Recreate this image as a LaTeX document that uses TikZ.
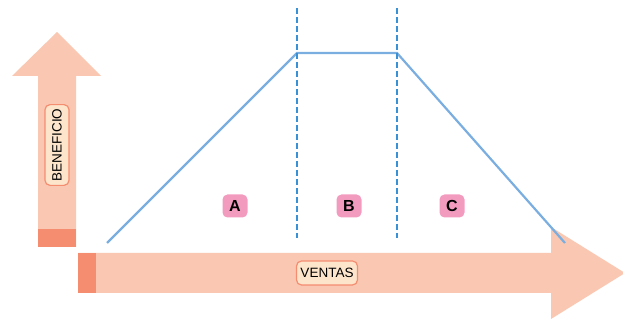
\documentclass[tikz,border=0pt]{standalone}
\usepackage{fontspec}
\setmainfont{Liberation Sans}
\definecolor{arrfill}{HTML}{FAC8B2}
\definecolor{arrdark}{HTML}{F58D70}
\definecolor{tagfill}{HTML}{FDE5CC}
\definecolor{linecol}{HTML}{7AAEE0}
\definecolor{dashcol}{HTML}{3A90D4}
\definecolor{zonecol}{HTML}{F29BBE}
\tikzset{tag/.style={draw=arrdark,line width=1.2pt,fill=tagfill,rounded corners=5pt,inner xsep=4pt,minimum height=24pt,font=\fontsize{13.5}{13.5}\selectfont},
zone/.style={fill=zonecol,rounded corners=5pt,minimum width=25pt,minimum height=23pt,inner sep=0pt,font=\fontsize{16}{16}\selectfont\bfseries}}
\begin{document}
\begin{tikzpicture}[x=1pt,y=1pt]
\useasboundingbox (0,0) rectangle (623,320);
% ejes
\fill[arrfill] (38,73)--(38,244)--(12,244)--(57,288)--(101,244)--(76,244)--(76,73)--cycle;
\fill[arrdark] (38,73) rectangle (76,91);
\fill[arrfill] (78,27)--(551,27)--(551,1)--(625,47)--(551,93)--(551,67)--(78,67)--cycle;
\fill[arrdark] (78,27) rectangle (96,67);
\node[tag,rotate=90] (ben) at (57,175) {BENEFICIO};
\node[tag] (ven) at (327,47) {VENTAS};
% curva
\coordinate (p0) at (107,77); \coordinate (p1) at (297,267);
\coordinate (p2) at (397,267); \coordinate (p3) at (565,77);
\draw[linecol,line width=2.2pt] (p0)--(p1)--(p2)--(p3);
\coordinate (d1) at (297,312); \coordinate (d2) at (297,82);
\coordinate (d3) at (397,312); \coordinate (d4) at (397,82);
\draw[dashcol,dash pattern=on 6pt off 3pt,line width=1.3pt] (d1)--(d2) (d3)--(d4);
\node[zone] (a) at (235,114) {A};
\node[zone] (b) at (349,114) {B};
\node[zone] (c) at (452,114) {C};
\end{tikzpicture}
\end{document}
